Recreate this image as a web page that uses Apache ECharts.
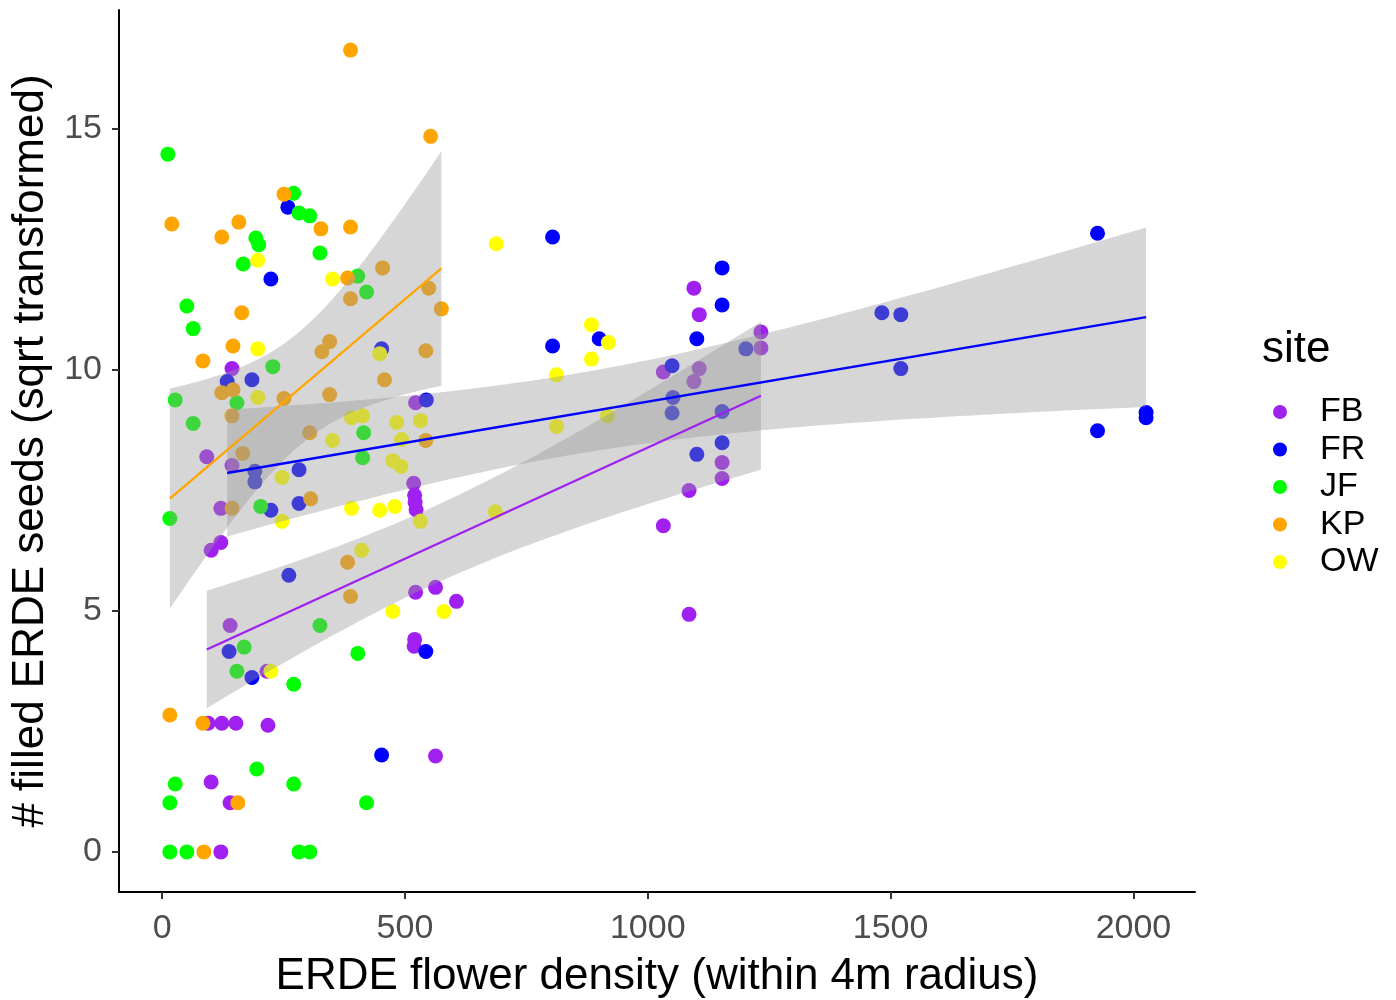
<!DOCTYPE html>
<html>
<head>
<meta charset="utf-8">
<script src="https://cdn.jsdelivr.net/npm/echarts@6/dist/echarts.min.js"></script>
<style>
html,body{margin:0;padding:0;background:#fff;}
#chart{width:1396px;height:1000px;}
</style>
</head>
<body>
<div id="chart"></div>
<script>
// ---- data (x = ERDE flower density, y = sqrt filled seeds) ----
const sites = ['FB', 'FR', 'JF', 'KP', 'OW'];
const siteColors = ['#A020F0', '#0000FF', '#00FF00', '#FFA500', '#FFFF00'];
const fbPoints = [[92,8.2],[144,8.02],[121,7.13],[121,6.42],[101,6.26],[140,4.7],[216,3.75],[95,2.67],[123,2.67],[152,2.67],[218,2.63],[101,1.45],[140,1.02],[121,0],[144,10.03],[522,9.32],[518,7.65],[520,7.4],[521,7.25],[523,7.1],[522,5.39],[563,5.49],[606,5.2],[520,4.41],[519,4.27],[563,1.99],[1095,11.7],[1106,11.15],[1233,10.79],[1233,10.46],[1032,9.96],[1106,10.03],[1095,9.76],[1153,8.08],[1153,7.75],[1085,7.5],[1032,6.77],[1085,4.93]];
const frPoints = [[259,13.38],[224,11.89],[452,10.44],[134,9.76],[185,9.8],[191,7.9],[191,7.68],[282,7.93],[224,7.09],[282,7.23],[261,5.74],[138,4.16],[185,3.62],[452,2.01],[543,4.16],[544,9.38],[804,12.76],[804,10.5],[900,10.65],[1153,12.12],[1153,11.35],[1101,10.65],[1202,10.44],[1050,10.09],[1052,9.43],[1050,9.11],[1153,9.14],[1153,8.49],[1101,8.25],[1926,12.84],[1482,11.19],[1521,11.15],[1521,10.03],[1926,8.74],[2026,9.12],[2026,9.01]];
const jfPoints = [[12,14.48],[271,13.67],[282,13.26],[304,13.2],[193,12.74],[199,12.6],[325,12.43],[167,12.2],[403,11.95],[421,11.62],[51,11.33],[64,10.86],[228,10.07],[27,9.38],[154,9.32],[64,8.89],[415,8.7],[413,8.18],[203,7.17],[16,6.92],[325,4.7],[169,4.25],[403,4.12],[154,3.75],[271,3.48],[195,1.72],[27,1.41],[271,1.41],[16,1.02],[421,1.02],[16,0],[51,0],[282,0],[304,0]];
const kpPoints = [[388,16.64],[251,13.65],[20,13.03],[158,13.07],[123,12.76],[327,12.93],[388,12.97],[382,11.91],[454,12.12],[388,11.48],[164,11.19],[146,10.5],[84,10.19],[345,10.59],[329,10.38],[123,9.53],[146,9.59],[458,9.8],[251,9.41],[345,9.49],[144,9.05],[304,8.7],[166,8.27],[553,14.85],[549,11.7],[575,11.27],[543,10.4],[543,8.54],[144,7.13],[306,7.33],[382,6.01],[388,5.3],[16,2.84],[84,2.67],[156,1.02],[86,0]];
const owPoints = [[688,12.62],[197,12.28],[351,11.89],[197,10.44],[448,10.34],[197,9.43],[390,9.01],[413,9.05],[351,8.54],[483,8.91],[532,8.95],[493,8.56],[812,9.9],[812,8.83],[917,9.05],[884,10.94],[919,10.57],[884,10.23],[247,7.77],[475,8.12],[492,8.0],[247,6.86],[390,7.13],[448,7.09],[479,7.17],[532,6.86],[686,7.06],[411,6.26],[475,4.99],[580,4.99],[224,3.75]];
const sitePoints = [fbPoints, frPoints, jfPoints, kpPoints, owPoints];
const fittedSites = ['FB', 'FR', 'KP'];   // sites with a linear smooth
const xTicks = [0, 500, 1000, 1500, 2000];
const yTicks = [0, 5, 10, 15];

// ---- linear model with 95% confidence band (like geom_smooth(method = "lm")) ----
function tQuantile975(df) {
  const z = 1.959963985;
  const z3 = z*z*z, z5 = z3*z*z, z7 = z5*z*z;
  return z + (z3 + z)/(4*df) + (5*z5 + 16*z3 + 3*z)/(96*df*df) + (3*z7 + 19*z5 + 17*z3 - 15*z)/(384*df*df*df);
}
function lmBand(pts) {
  const n = pts.length;
  let mx = 0, my = 0;
  pts.forEach(p => { mx += p[0]; my += p[1]; });
  mx /= n; my /= n;
  let sxx = 0, sxy = 0;
  pts.forEach(p => { sxx += (p[0]-mx)*(p[0]-mx); sxy += (p[0]-mx)*(p[1]-my); });
  const b = sxy / sxx, a = my - b*mx;
  let sse = 0;
  pts.forEach(p => { const r = p[1] - (a + b*p[0]); sse += r*r; });
  const s = Math.sqrt(sse/(n-2));
  const t = tQuantile975(n-2);
  const xs = pts.map(p => p[0]);
  const x0 = Math.min(...xs), x1 = Math.max(...xs);
  const rows = [];
  const N = 80;
  for (let i = 0; i < N; i++) {
    const x = x0 + (x1 - x0)*i/(N-1);
    const yh = a + b*x;
    const se = s*Math.sqrt(1/n + (x-mx)*(x-mx)/sxx);
    rows.push([x, yh, yh - t*se, yh + t*se]);
  }
  return rows;
}

// axis limits with 5% expansion of the data range
const allX = [], allY = [];
sitePoints.forEach(ps => ps.forEach(p => { allX.push(p[0]); allY.push(p[1]); }));
const xr = Math.max(...allX) - Math.min(...allX);
const yr = Math.max(...allY) - Math.min(...allY);
const xMin = Math.min(...allX) - 0.05*xr, xMax = Math.max(...allX) + 0.05*xr;
const yMin = Math.min(...allY) - 0.05*yr, yMax = Math.max(...allY) + 0.05*yr;

const series = [];
sites.forEach((s, i) => {
  series.push({
    name: s, type: 'scatter', data: sitePoints[i], symbol: 'circle', symbolSize: 15,
    itemStyle: { color: siteColors[i], opacity: 1 }, z: 2,
    emphasis: { disabled: true }
  });
});
fittedSites.forEach(s => {
  const i = sites.indexOf(s);
  const rows = lmBand(sitePoints[i]);
  series.push({
    type: 'custom', z: 3, silent: true,
    data: [[rows[0][0], rows[0][2], rows[0][3]]],
    renderItem: function (params, api) {
      const up = rows.map(r => api.coord([r[0], r[3]]));
      const lo = rows.slice().reverse().map(r => api.coord([r[0], r[2]]));
      return { type: 'polygon', shape: { points: up.concat(lo) },
               style: { fill: 'rgba(153,153,153,0.4)' } };
    }
  });
  series.push({
    type: 'line', z: 4, silent: true, showSymbol: false, symbol: 'none',
    data: [[rows[0][0], rows[0][1]], [rows[rows.length-1][0], rows[rows.length-1][1]]],
    lineStyle: { color: siteColors[i], width: 2.3 }
  });
});

const FONT = 'Liberation Sans, Arial, sans-serif';
const plain = v => String(v);
const chart = echarts.init(document.getElementById('chart'), null, { renderer: 'canvas' });
chart.setOption({
  backgroundColor: '#fff',
  animation: false,
  grid: { left: 119, right: 201, top: 10, bottom: 108, containLabel: false, outerBoundsMode: 'none' },
  xAxis: {
    type: 'value', min: xMin, max: xMax,
    name: 'ERDE flower density (within 4m radius)', nameLocation: 'middle', nameGap: 63,
    nameTextStyle: { fontSize: 44, color: '#000', fontFamily: FONT },
    axisLine: { show: true, onZero: false, lineStyle: { color: '#000', width: 2 } },
    axisTick: { show: true, length: 7, customValues: xTicks, lineStyle: { color: '#333', width: 2 } },
    axisLabel: { customValues: xTicks, formatter: plain, color: '#4D4D4D', fontSize: 34, margin: 20, fontFamily: FONT },
    splitLine: { show: false }
  },
  yAxis: {
    type: 'value', min: yMin, max: yMax,
    name: '# filled ERDE seeds (sqrt transformed)', nameLocation: 'middle', nameGap: 63,
    nameTextStyle: { fontSize: 44, color: '#000', fontFamily: FONT },
    axisLine: { show: true, onZero: false, lineStyle: { color: '#000', width: 2 } },
    axisTick: { show: true, length: 7, customValues: yTicks, lineStyle: { color: '#333', width: 2 } },
    axisLabel: { customValues: yTicks, formatter: plain, color: '#4D4D4D', fontSize: 34, margin: 17, fontFamily: FONT },
    splitLine: { show: false }
  },
  legend: {
    data: sites, orient: 'vertical', left: 1268, top: 390,
    icon: 'circle', itemWidth: 14, itemHeight: 14, itemGap: 3.5,
    textStyle: { fontSize: 34, color: '#000', fontFamily: FONT, lineHeight: 34, padding: [0, 0, 0, 28] },
    selectedMode: false
  },
  graphic: [{
    type: 'text', left: 1262, top: 328,
    style: { text: 'site', fontSize: 44, fill: '#000', fontFamily: FONT }
  }],
  series: series
});
</script>
</body>
</html>
